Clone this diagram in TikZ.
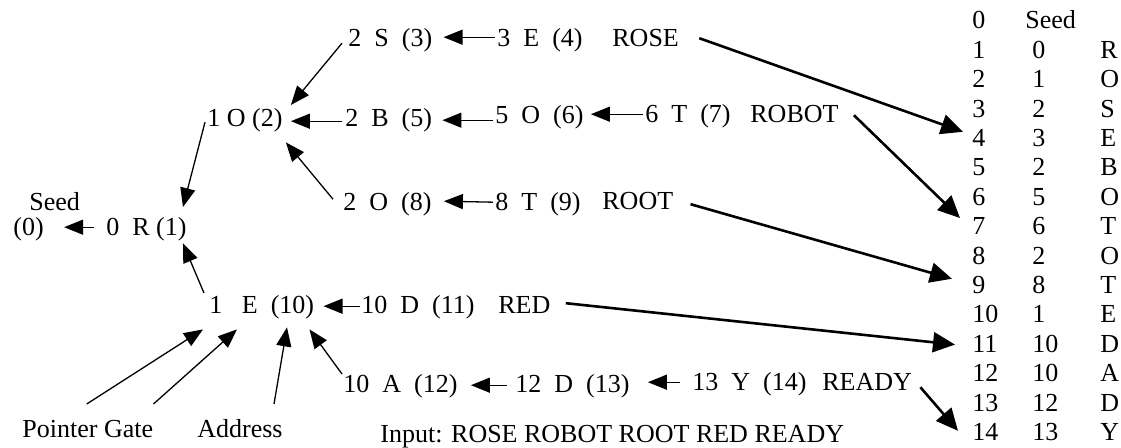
\documentclass[tikz,border=0pt]{standalone}
\usepackage{fontspec}
\setmainfont{Liberation Serif}
\usetikzlibrary{arrows.meta}
\begin{document}
\begin{tikzpicture}[x=0.5pt,y=-0.5pt,
  every node/.style={font=\fontsize{13pt}{15pt}\selectfont, inner sep=0pt, text height=8.8pt, text depth=0pt, anchor=base west},
  thinarr/.style={line width=0.65pt, -{Triangle[length=9.5pt,width=7.5pt]}},
  thickarr/.style={line width=1.3pt, -{Triangle[length=11pt,width=10pt]}}]
\useasboundingbox (0,0) rectangle (1121,448);

% ---- table ----
\node (t0) at (972,29) {0};
\node (u0) at (1025,29) {Seed};
\foreach \i/\b/\c in {1/0/R,2/1/O,3/2/S,4/3/E,5/2/B,6/5/O,7/6/T,8/2/O,9/8/T,10/1/E,11/10/D,12/10/A,13/12/D,14/13/Y}{
  \node (t\i) at (972,{29+29.4*\i}) {\i};
  \node (u\i) at (1032,{29+29.4*\i}) {\b};
  \node (v\i) at (1100,{29+29.4*\i}) {\c};
}

% ---- tree ----
\node (seedL) at (29,211) {Seed};
\node (p0) at (13,236) {(0)};
\node (r1) at (106,236) {0~~R~(1)};
\node (o2) at (207,127) {1~O~(2)};
\node (s3) at (348,47) {2~~S~~(3)};
\node (e4) at (497,47) {3~~E~~(4)};
\node (rose) at (612,47) {ROSE};
\node (b5) at (345,127) {2~~B~~(5)};
\node (o6) at (495,124) {5~~O~~(6)};
\node (t7n) at (645,123) {6~~T~~(7)};
\node (robot) at (750,123) {ROBOT};
\node (o8) at (343,211) {2~~O~~(8)};
\node (t9n) at (495,211) {8~~T~~(9)};
\node (root) at (602,210) {ROOT};
\node (e10) at (209,314) {1~~~E~~(10)};
\node (d11) at (361,314) {10~~D~~(11)};
\node (red) at (498,314) {RED};
\node (a12) at (343,393) {10~~A~~(12)};
\node (d13) at (515,393) {12~~D~~(13)};
\node (y14) at (692,391) {13~~Y~~(14)};
\node (ready) at (822,391) {READY};
\node (pg) at (22,438) {Pointer Gate};
\node (addr) at (197,438) {Address};
\node (input) at (380,443) {Input: ROSE ROBOT ROOT RED READY};

% ---- thin arrows ----
\draw[thinarr] ([xshift=-6]r1.west) -- ([xshift=10]p0.east);
\draw[thinarr] ([shift={(-2,4)}]o2.west) -- ([shift={(-4,-11)}]r1.north east);
\draw[thinarr] ([shift={(-6,5)}]s3.west) -- ([shift={(8,-4)}]o2.north east);
\draw[thinarr] ([shift={(-3,3)}]b5.west) -- ([shift={(8,3)}]o2.east);
\draw[thinarr] ([shift={(-10,-3)}]o8.west) -- ([shift={(3,15)}]o2.south east);
\draw[thinarr] ([shift={(-2,-1)}]e4.west) -- ([shift={(11,-1)}]s3.east);
\draw[thinarr] ([shift={(-2,5)}]o6.west) -- ([shift={(10,2)}]b5.east);
\draw[thinarr] ([shift={(-2,0)}]t7n.west) -- ([shift={(7,-1)}]o6.east);
\draw[thinarr] ([shift={(-2,0)}]t9n.west) -- ([shift={(12,-1)}]o8.east);
\draw[thinarr] ([shift={(-5,-3)}]e10.north west) -- ([shift={(-4,7)}]r1.south east);
\draw[thinarr] ([shift={(-1,1)}]d11.west) -- ([shift={(9,1)}]e10.east);
\draw[thinarr] ([shift={(-1,-16)}]pg.north) -- ([shift={(-6,15)}]e10.south west);
\draw[thinarr] ([shift={(0,-16)}]pg.north east) -- ([shift={(28,15)}]e10.south west);
\draw[thinarr] ([shift={(-9,-16)}]addr.north east) -- ([shift={(78,13)}]e10.south west);
\draw[thinarr] ([shift={(-1,-1)}]a12.north west) -- ([shift={(-5,15)}]e10.south east);
\draw[thinarr] ([shift={(-8,1)}]d13.west) -- ([shift={(13,1)}]a12.east);
\draw[thinarr] ([shift={(-12,0)}]y14.west) -- ([shift={(18,-2)}]d13.east);

% ---- thick arrows ----
\draw[thickarr] ([shift={(20,0)}]rose.east) -- ([shift={(-9,-6)}]t4.west);
\draw[thickarr] ([shift={(15,1)}]robot.east) -- ([shift={(-12,-8)}]t7.west);
\draw[thickarr] ([shift={(17,3)}]root.east) -- ([shift={(-20,-6)}]t9.west);
\draw[thickarr] ([shift={(15,-2)}]red.east) -- ([shift={(-17,1)}]t11.west);
\draw[thickarr] ([shift={(8,5)}]ready.east) -- ([shift={(-14,-1)}]t14.west);
\end{tikzpicture}
\end{document}
